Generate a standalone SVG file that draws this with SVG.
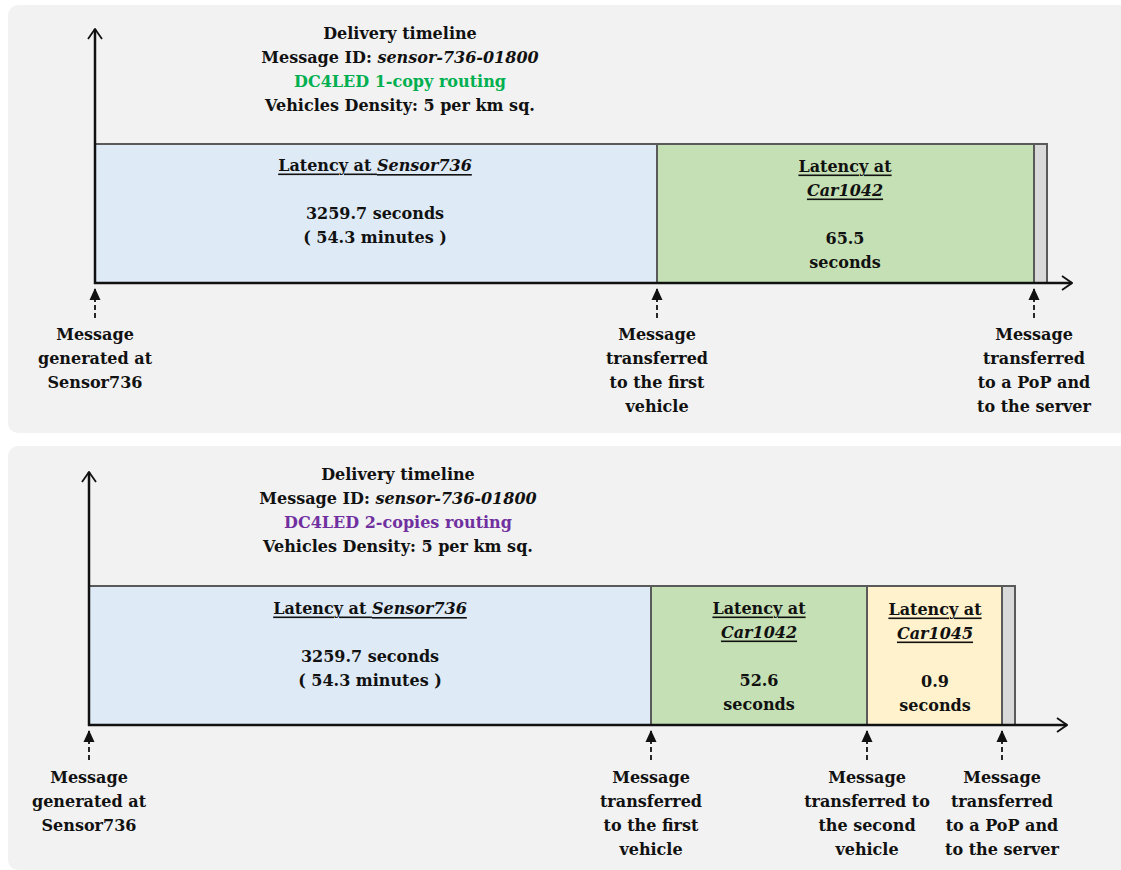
<svg xmlns="http://www.w3.org/2000/svg" width="1121" height="870" viewBox="0 0 1121 870">
<style>
text{font-family:"DejaVu Serif","Liberation Serif",serif;font-weight:bold;font-size:16px;fill:#111;text-anchor:middle;dominant-baseline:central}
.it{font-style:italic}
.u{text-decoration:underline}
.axis{stroke:#111;stroke-width:2.5;fill:none}
.seg{stroke:#5a5a5a;stroke-width:2}
.dash{stroke:#111;stroke-width:1.8;stroke-dasharray:5,3;fill:none}
.panel{fill:#f2f2f2}
</style>
<defs>
<marker id="open" viewBox="0 0 12 16" refX="11" refY="8" markerWidth="12" markerHeight="16" markerUnits="userSpaceOnUse" orient="auto">
<path d="M1,1 L11,8 L1,15" fill="none" stroke="#111" stroke-width="1.8"/>
</marker>
<marker id="tri" viewBox="0 0 12 12" refX="11" refY="6" markerWidth="12" markerHeight="12" markerUnits="userSpaceOnUse" orient="auto">
<path d="M0,0.5 L12,6 L0,11.5 Z" fill="#111"/>
</marker>
</defs>
<rect class="panel" x="8" y="5" width="1130" height="428" rx="10"/>
<rect class="panel" x="8" y="446" width="1130" height="424" rx="10"/>

<g id="title1">
<text x="400" y="33">Delivery timeline</text>
<text x="400" y="57">Message ID: <tspan class="it">sensor-736-01800</tspan></text>
<text x="400" y="81" style="fill:#00b050">DC4LED 1-copy routing</text>
<text x="400" y="105">Vehicles Density: 5 per km sq.</text>
</g>
<g id="sensor1">
<rect class="seg" x="95" y="144" width="562" height="139" fill="#deeaf6"/>
<text x="375" y="165" class="u">Latency at <tspan class="it">Sensor736</tspan></text>
<text x="375" y="213">3259.7 seconds</text>
<text x="375" y="237">( 54.3 minutes )</text>
</g>
<g id="car1042a">
<rect class="seg" x="657" y="144" width="377" height="139" fill="#c5e0b4"/>
<text x="845" y="166" class="u">Latency at</text>
<text x="845" y="190" class="u it">Car1042</text>
<text x="845" y="238">65.5</text>
<text x="845" y="262">seconds</text>
</g>
<g id="pop1">
<rect class="seg" x="1034" y="144" width="13" height="139" fill="#d9d9d9"/>
</g>

<g id="title2">
<text x="398" y="474">Delivery timeline</text>
<text x="398" y="498">Message ID: <tspan class="it">sensor-736-01800</tspan></text>
<text x="398" y="522" style="fill:#7030a0">DC4LED 2-copies routing</text>
<text x="398" y="546">Vehicles Density: 5 per km sq.</text>
</g>
<g id="sensor2">
<rect class="seg" x="89" y="586" width="562" height="139" fill="#deeaf6"/>
<text x="370" y="608" class="u">Latency at <tspan class="it">Sensor736</tspan></text>
<text x="370" y="656">3259.7 seconds</text>
<text x="370" y="680">( 54.3 minutes )</text>
</g>
<g id="car1042b">
<rect class="seg" x="651" y="586" width="216" height="139" fill="#c5e0b4"/>
<text x="759" y="608" class="u">Latency at</text>
<text x="759" y="632" class="u it">Car1042</text>
<text x="759" y="680">52.6</text>
<text x="759" y="704">seconds</text>
</g>
<g id="car1045">
<rect class="seg" x="867" y="586" width="135" height="139" fill="#fff2cc"/>
<text x="935" y="609" class="u">Latency at</text>
<text x="935" y="633" class="u it">Car1045</text>
<text x="935" y="681">0.9</text>
<text x="935" y="705">seconds</text>
</g>
<g id="pop2">
<rect class="seg" x="1002" y="586" width="13" height="139" fill="#d9d9d9"/>
</g>

<g id="connectors">
<line class="axis" x1="95" y1="284" x2="95" y2="29" marker-end="url(#open)"/>
<line class="axis" x1="94" y1="283" x2="1072" y2="283" marker-end="url(#open)"/>
<line class="axis" x1="89" y1="726" x2="89" y2="472" marker-end="url(#open)"/>
<line class="axis" x1="88" y1="725" x2="1067" y2="725" marker-end="url(#open)"/>
<line class="dash" x1="95" y1="318" x2="95" y2="289" marker-end="url(#tri)"/>
<line class="dash" x1="657" y1="318" x2="657" y2="289" marker-end="url(#tri)"/>
<line class="dash" x1="1034" y1="318" x2="1034" y2="289" marker-end="url(#tri)"/>
<line class="dash" x1="89" y1="760" x2="89" y2="731" marker-end="url(#tri)"/>
<line class="dash" x1="651" y1="760" x2="651" y2="731" marker-end="url(#tri)"/>
<line class="dash" x1="867" y1="760" x2="867" y2="731" marker-end="url(#tri)"/>
<line class="dash" x1="1002" y1="760" x2="1002" y2="731" marker-end="url(#tri)"/>
</g>

<g id="label-gen1">
<text x="95" y="334">Message</text>
<text x="95" y="358">generated at</text>
<text x="95" y="382">Sensor736</text>
</g>
<g id="label-first1">
<text x="657" y="334">Message</text>
<text x="657" y="358">transferred</text>
<text x="657" y="382">to the first</text>
<text x="657" y="406">vehicle</text>
</g>
<g id="label-pop1">
<text x="1034" y="334">Message</text>
<text x="1034" y="358">transferred</text>
<text x="1034" y="382">to a PoP and</text>
<text x="1034" y="406">to the server</text>
</g>
<g id="label-gen2">
<text x="89" y="777">Message</text>
<text x="89" y="801">generated at</text>
<text x="89" y="825">Sensor736</text>
</g>
<g id="label-first2">
<text x="651" y="777">Message</text>
<text x="651" y="801">transferred</text>
<text x="651" y="825">to the first</text>
<text x="651" y="849">vehicle</text>
</g>
<g id="label-second2">
<text x="867" y="777">Message</text>
<text x="867" y="801">transferred to</text>
<text x="867" y="825">the second</text>
<text x="867" y="849">vehicle</text>
</g>
<g id="label-pop2">
<text x="1002" y="777">Message</text>
<text x="1002" y="801">transferred</text>
<text x="1002" y="825">to a PoP and</text>
<text x="1002" y="849">to the server</text>
</g>
</svg>
